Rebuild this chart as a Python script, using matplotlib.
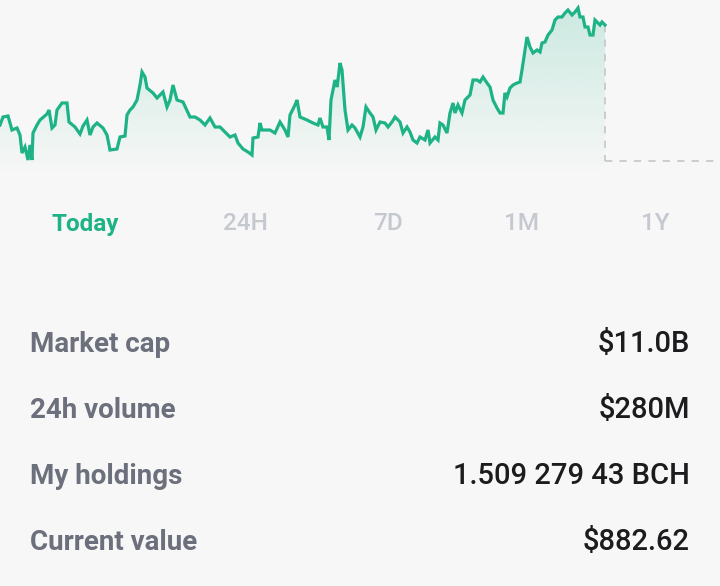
import numpy as np
import matplotlib
matplotlib.use("Agg")
import matplotlib.pyplot as plt
from matplotlib.patches import Polygon

# ---- data (value = relative price level) ----
times = [0, 3, 8, 12, 17, 20, 22, 25, 28, 30, 32, 33, 37, 40, 47, 49, 52, 55, 57, 62, 67, 69, 75, 80, 83, 87, 90, 93, 97,
         103, 107, 110, 117, 120, 125, 127, 130, 133, 137, 140, 142, 145, 147, 153, 157, 163, 167, 170, 173, 177, 183,
         190, 195, 200, 205, 210, 215, 220, 225, 230, 235, 238, 243, 248, 252, 253, 258, 260, 262, 270, 275, 280, 285,
         288, 290, 295, 297, 300, 307, 313, 318, 320, 323, 327, 329, 331, 335, 337, 338, 340, 342, 345, 348, 352, 355,
         360, 363, 366, 370, 373, 376, 380, 385, 388, 392, 395, 400, 403, 407, 410, 413, 417, 420, 425, 428, 430, 435,
         438, 440, 443, 447, 450, 453, 455, 458, 462, 465, 470, 473, 477, 480, 483, 487, 490, 493, 497, 500, 503, 505,
         507, 510, 513, 517, 520, 522, 525, 527, 530, 533, 537, 540, 542, 545, 548, 552, 555, 558, 562, 565, 568, 572,
         575, 578, 580, 583, 585, 588, 590, 593, 595, 598, 600, 602, 605]
pixel_levels = [125, 117, 116, 130, 128, 135, 153, 147, 160, 145, 160, 133, 125, 120, 114, 110, 128, 125, 110, 103, 103,
                122, 127, 134, 126, 120, 135, 127, 123, 128, 135, 150, 149, 137, 136, 115, 110, 107, 100, 85, 72, 77, 88,
                93, 98, 92, 107, 100, 85, 100, 102, 117, 117, 120, 125, 118, 127, 127, 132, 137, 135, 143, 149, 152, 155,
                138, 137, 123, 130, 130, 133, 122, 130, 137, 115, 105, 100, 117, 120, 123, 125, 118, 127, 127, 140, 100,
                80, 87, 80, 63, 70, 110, 130, 125, 128, 137, 127, 107, 113, 117, 130, 122, 123, 127, 122, 117, 122, 133,
                127, 132, 140, 143, 137, 140, 130, 143, 137, 140, 123, 125, 133, 113, 103, 113, 105, 113, 100, 95, 80, 80,
                82, 77, 83, 87, 100, 108, 113, 113, 93, 97, 88, 85, 83, 82, 70, 50, 37, 47, 53, 50, 52, 43, 42, 35, 30, 20,
                17, 17, 13, 10, 15, 12, 8, 17, 17, 27, 27, 35, 35, 20, 23, 25, 22, 25]
prices = [180 - p for p in pixel_levels]
baseline = 180 - 161

tabs = ["Today", "24H", "7D", "1M", "1Y"]
tab_x = [85, 245, 388, 522, 655]
labels = ["Market cap", "24h volume", "My holdings", "Current value"]
values = ["$11.0B", "$280M", "1.509 279 43 BCH", "$882.62"]
row_y = [344, 410, 476, 542]

BG = "#f7f7f7"
GREEN = "#1db386"

W, H = 720, 586
fig = plt.figure(figsize=(W / 100, H / 100), dpi=100, facecolor=BG)

# chart axes covering top 180 px, x in pixel-like units
ax = fig.add_axes([0, 1 - 180 / H, 1, 180 / H])
ax.set_xlim(0, W)
ax.set_ylim(0, 180)
ax.axis("off")
ax.set_facecolor(BG)

t = np.array(times, dtype=float)
p = np.array(prices, dtype=float)

# gradient fill under the line
poly_xy = np.vstack([np.column_stack([t, p]), [[t[-1], 0], [t[0], 0]]])
clip = Polygon(poly_xy, closed=True, facecolor="none", edgecolor="none")
ax.add_patch(clip)
grad = np.zeros((256, 1, 4))
rgb = matplotlib.colors.to_rgb(GREEN)
grad[..., 0], grad[..., 1], grad[..., 2] = rgb
grad[:, 0, 3] = np.linspace(0.0, 0.2, 256)
im = ax.imshow(grad, extent=[t[0], t[-1], 5, max(p)], origin="lower", aspect="auto", zorder=1)
im.set_clip_path(clip)

ax.plot(t, p, color=GREEN, lw=2.3, zorder=3, solid_joinstyle="miter")

# dashed guide lines
ax.plot([t[-1], t[-1]], [p[-1], baseline], color="#c9c9cc", lw=1.3, ls=(0, (4, 4)), zorder=2)
ax.plot([t[-1], W], [baseline, baseline], color="#c9c9cc", lw=1.3, ls=(0, (4, 4)), zorder=2)

# text overlay axes in pixel coords
tx = fig.add_axes([0, 0, 1, 1])
tx.set_xlim(0, W)
tx.set_ylim(H, 0)
tx.axis("off")
tx.patch.set_alpha(0)

FONT = ["Roboto", "DejaVu Sans"]
for i, (lab, x) in enumerate(zip(tabs, tab_x)):
    tx.text(x, 224, lab, ha="center", va="center", fontsize=17.5, family=FONT,
            fontweight="bold" if i == 0 else "medium",
            color=GREEN if i == 0 else "#c6c8d0")

for lab, val, y in zip(labels, values, row_y):
    tx.text(30, y, lab, ha="left", va="center", fontsize=20, family=FONT, fontweight="bold", color="#6c707c")
    tx.text(690, y, val, ha="right", va="center", fontsize=21, family=FONT, fontweight="medium", color="#1c1c1e")

fig.savefig("out.png", dpi=100, facecolor=BG)
